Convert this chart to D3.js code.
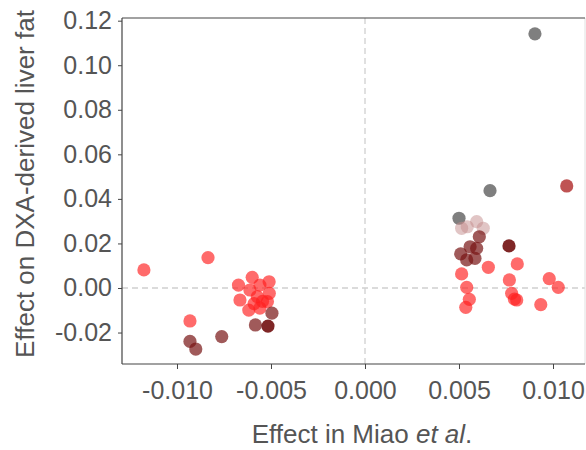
<!DOCTYPE html>
<html><head><meta charset="utf-8">
<script src="https://cdn.jsdelivr.net/npm/d3@7"></script>
<style>body{margin:0;background:#fff}svg{display:block}text{font-family:"Liberation Sans",Arial,sans-serif}</style>
</head><body><svg id="c" width="586" height="450"></svg>
<script>
const effectMiao = [
 -0.01176,-0.00835,-0.00931,-0.00931,-0.00900,-0.00762,
 -0.00600,-0.00510,-0.00673,-0.00612,-0.00559,-0.00509,-0.00665,-0.00573,-0.00519,-0.00618,-0.00559,-0.00590,-0.00545,-0.00495,-0.00583,-0.00516,
 0.00904,0.00665,0.01073,0.00500,0.00514,0.00544,0.00594,0.00629,0.00608,0.00559,0.00594,0.00509,0.00541,0.00585,0.00766,
 0.00656,0.00810,0.00514,0.00768,0.00980,0.00541,0.01028,0.00780,0.00555,0.00807,0.00795,0.00935,0.00536
];
const effectLiver = [
 0.0081,0.0136,-0.0148,-0.0240,-0.0274,-0.0218,
 0.0048,0.0028,0.0013,-0.0009,0.0013,-0.0024,-0.0054,-0.0039,-0.0061,-0.0099,-0.0090,-0.0070,-0.0060,-0.0113,-0.0166,-0.0171,
 0.1141,0.0437,0.0458,0.0313,0.0268,0.0275,0.0298,0.0268,0.0230,0.0185,0.0178,0.0153,0.0126,0.0133,0.0189,
 0.0093,0.0108,0.0063,0.0036,0.0042,0.0003,0.0003,-0.0024,-0.0051,-0.0054,-0.0050,-0.0075,-0.0087
];
const shade = [
 "R","R","R","D","D","D",
 "R","R","R","R","R","R","R","R","R","R","R","R","R","D","D","K",
 "G","G","M","G","P","P","P","P","D","D","D","D","D","D","K",
 "R","R","R","R","R","R","R","R","R","R","R","R","R"
];
const xTicks = [-0.010,-0.005,0.000,0.005,0.010];
const yTicks = [-0.02,0.00,0.02,0.04,0.06,0.08,0.10,0.12];

const svg = d3.select("#c");
const L=122, R=585, T=18, B=364;
const x = d3.scaleLinear().domain([-0.012925,0.011702]).range([L,R]);
const y = d3.scaleLinear().domain([-0.03412,0.1212]).range([B,T]);
const color = d3.scaleOrdinal().domain(["R","D","K","G","P","M"])
  .range(["rgba(255,30,30,0.66)","rgba(120,20,20,0.7)","rgba(105,0,0,0.85)","rgba(105,105,105,0.85)","rgba(195,140,140,0.5)","rgba(175,40,40,0.8)"]);

// reference lines
svg.append("line").attr("x1",x(0)).attr("x2",x(0)).attr("y1",T).attr("y2",B)
  .attr("stroke","#d0d0d0").attr("stroke-width",1.3).attr("stroke-dasharray","6,4");
svg.append("line").attr("x1",L).attr("x2",R).attr("y1",y(0)).attr("y2",y(0))
  .attr("stroke","#d0d0d0").attr("stroke-width",1.3).attr("stroke-dasharray","6,4");

// points
const pts = effectMiao.map((v,i)=>({x:v,y:effectLiver[i],g:shade[i]}));
svg.append("g").selectAll("circle").data(pts).join("circle")
  .attr("cx",d=>x(d.x)).attr("cy",d=>y(d.y)).attr("r",6.6)
  .attr("fill",d=>color(d.g));

// frame
svg.append("line").attr("x1",R).attr("x2",R).attr("y1",T).attr("y2",B).attr("stroke","#e0e0e0");

const fs = 25;
const hy = f => v => f(v).replace("\u2212","-");
const xAxis = svg.append("g").attr("transform",`translate(0,${B})`)
  .call(d3.axisBottom(x).tickValues(xTicks).tickFormat(hy(d3.format(".3f"))).tickSize(5).tickPadding(12).tickSizeOuter(0));
const yAxis = svg.append("g").attr("transform",`translate(${L},0)`)
  .call(d3.axisLeft(y).tickValues(yTicks).tickFormat(hy(d3.format(".2f"))).tickSize(4).tickPadding(6).tickSizeOuter(0));
[xAxis,yAxis].forEach(a=>{
  a.select(".domain").attr("stroke","#444").attr("stroke-width",1.2);
  a.selectAll(".tick line").attr("stroke","#444");
  a.selectAll(".tick text").attr("fill","#555").style("font-size",fs+"px").style("font-family","Liberation Sans, Arial, sans-serif");
});
xAxis.select(".domain").attr("d",`M${L},0H${R}`);
yAxis.select(".domain").attr("d",`M0,${T}V${B}`);
svg.append("line").attr("x1",L).attr("x2",R).attr("y1",T).attr("y2",T).attr("stroke","#444").attr("stroke-width",1.2);

// titles
const xt = svg.append("text").attr("x",362).attr("y",443).attr("text-anchor","middle")
  .attr("fill","#555").style("font-size","26px");
xt.append("tspan").text("Effect in Miao ");
xt.append("tspan").attr("font-style","italic").text("et al");
xt.append("tspan").text(".");
svg.append("text").attr("transform","translate(34,184) rotate(-90)").attr("text-anchor","middle")
  .attr("fill","#555").style("font-size","26px").text("Effect on DXA-derived liver fat");
</script></body></html>
